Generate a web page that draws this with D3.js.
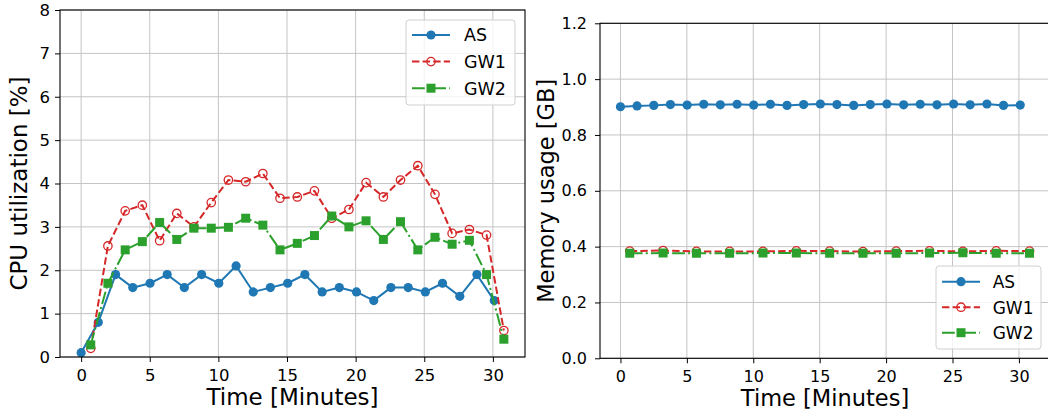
<!DOCTYPE html>
<html>
<head>
<meta charset="utf-8">
<script src="https://cdn.jsdelivr.net/npm/d3@7"></script>
<style>
  body { margin: 0; background: #fff; }
  text { font-family: "DejaVu Sans", sans-serif; fill: #000; }
</style>
</head>
<body>
<svg id="chart" width="1048" height="414"></svg>
<script>
// values
const seriesNames = ['AS', 'GW1', 'GW2']
const xTicks = [0, 5, 10, 15, 20, 25, 30]
const cpuTicks = [0, 1, 2, 3, 4, 5, 6, 7, 8]
const memTicks = [0, 0.2, 0.4, 0.6, 0.8, 1.0, 1.2]

const timeAS = [0, 1.25, 2.51, 3.76, 5.02, 6.27, 7.52, 8.78, 10.03, 11.29, 12.54, 13.79, 15.05,
  16.3, 17.56, 18.81, 20.06, 21.32, 22.57, 23.83, 25.08, 26.33, 27.59, 28.84, 30.1]
const timeGW = [0.7, 1.95, 3.21, 4.46, 5.72, 6.97, 8.22, 9.48, 10.73, 11.99, 13.24, 14.49, 15.75,
  17.0, 18.26, 19.51, 20.76, 22.02, 23.27, 24.53, 25.78, 27.03, 28.29, 29.54, 30.8]
const memTimeGW = [0.7, 3.21, 5.72, 8.22, 10.73, 13.24, 15.75, 18.26, 20.76, 23.27, 25.78, 28.29, 30.8]

const cpuAS = [0.1, 0.8, 1.9, 1.6, 1.7, 1.9, 1.6, 1.9, 1.7, 2.1, 1.5, 1.6, 1.7,
  1.9, 1.5, 1.6, 1.5, 1.3, 1.6, 1.6, 1.5, 1.7, 1.4, 1.9, 1.3]
const cpuGW1 = [0.2, 2.56, 3.37, 3.5, 2.68, 3.31, 3.0, 3.56, 4.08, 4.04, 4.23, 3.66, 3.69,
  3.83, 3.2, 3.4, 4.02, 3.69, 4.08, 4.41, 3.75, 2.85, 2.94, 2.81, 0.61]
const cpuGW2 = [0.28, 1.7, 2.47, 2.66, 3.1, 2.71, 2.97, 2.97, 2.99, 3.2, 3.04, 2.47, 2.62,
  2.8, 3.25, 3.0, 3.14, 2.71, 3.12, 2.47, 2.76, 2.6, 2.69, 1.9, 0.41]

const memAS = [0.901, 0.904, 0.906, 0.909, 0.907, 0.91, 0.908, 0.91, 0.907, 0.91, 0.906, 0.909, 0.911,
  0.909, 0.906, 0.909, 0.911, 0.908, 0.91, 0.908, 0.911, 0.908, 0.911, 0.906, 0.907]
const memGW1 = [0.384, 0.386, 0.383, 0.383, 0.383, 0.385, 0.384, 0.382, 0.384, 0.385, 0.383, 0.385, 0.384]
const memGW2 = [0.376, 0.377, 0.376, 0.376, 0.377, 0.377, 0.376, 0.376, 0.376, 0.377, 0.378, 0.376, 0.376]

const colors = { 'AS': '#1f77b4', 'GW1': '#d62728', 'GW2': '#2ca02c' }
const dashes = { 'AS': null, 'GW1': '7.4,3.2', 'GW2': '12.8,3.2,2,3.2' }

const svg = d3.select('#chart')

const drawPanel = (p) => {
    const x = d3.scaleLinear().domain([-1.54, 32.34]).range([p.left, p.right])
    const y = d3.scaleLinear().domain(p.yDomain).range([p.bottom, p.top])
    const g = svg.append('g')

    const clipId = 'clip' + p.id
    g.append('clipPath').attr('id', clipId)
        .append('rect')
        .attr('x', p.left).attr('y', p.top)
        .attr('width', p.right - p.left).attr('height', p.bottom - p.top)

    // grid
    g.append('g').selectAll('line')
        .data(xTicks)
        .join('line')
        .attr('x1', d => x(d)).attr('x2', d => x(d))
        .attr('y1', p.top).attr('y2', p.bottom)
        .attr('stroke', '#c4c4c4').attr('stroke-width', 1)
    g.append('g').selectAll('line')
        .data(p.yTicks)
        .join('line')
        .attr('x1', p.left).attr('x2', p.right)
        .attr('y1', d => y(d)).attr('y2', d => y(d))
        .attr('stroke', '#c4c4c4').attr('stroke-width', 1)

    // series
    const plot = g.append('g').attr('clip-path', `url(#${clipId})`)
    p.series.forEach(s => {
        const pts = s.t.map((t, i) => [t, s.v[i]])
        plot.append('path')
            .datum(pts)
            .attr('fill', 'none')
            .attr('stroke', colors[s.name])
            .attr('stroke-width', 2)
            .attr('stroke-dasharray', dashes[s.name])
            .attr('d', d3.line().x(d => x(d[0])).y(d => y(d[1])))

        if (s.name === 'GW2') {
            plot.append('g').selectAll('path')
                .data(pts)
                .join('path')
                .attr('transform', d => `translate(${x(d[0])},${y(d[1])})`)
                .attr('d', d3.symbol(d3.symbolSquare, 81))
                .attr('fill', colors[s.name])
        } else {
            plot.append('g').selectAll('circle')
                .data(pts)
                .join('circle')
                .attr('cx', d => x(d[0]))
                .attr('cy', d => y(d[1]))
                .attr('r', s.name === 'AS' ? 4.6 : 4.2)
                .attr('fill', s.name === 'AS' ? colors[s.name] : 'none')
                .attr('stroke', colors[s.name])
                .attr('stroke-width', s.name === 'AS' ? 0 : 1.3)
        }
    })

    // frame
    g.append('rect')
        .attr('x', p.left).attr('y', p.top)
        .attr('width', p.right - p.left).attr('height', p.bottom - p.top)
        .attr('fill', 'none').attr('stroke', '#000').attr('stroke-width', 1.1)

    // axes
    const xAxis = g.append('g')
        .attr('transform', `translate(0,${p.bottom})`)
        .call(d3.axisBottom(x).tickValues(xTicks).tickSize(5).tickSizeOuter(0).tickPadding(7))
    const yAxis = g.append('g')
        .attr('transform', `translate(${p.left},0)`)
        .call(d3.axisLeft(y).tickValues(p.yTicks).tickFormat(p.yFormat).tickSize(5).tickSizeOuter(0).tickPadding(p.yPad))
    ;[xAxis, yAxis].forEach(a => {
        a.select('.domain').remove()
        a.selectAll('text').style('font-size', p.tickFont + 'px').attr('fill', '#000')
        a.selectAll('line').attr('stroke', '#000').attr('stroke-width', 1)
    })

    // axis labels
    g.append('text')
        .attr('x', (p.left + p.right) / 2)
        .attr('y', p.xLabelY)
        .attr('text-anchor', 'middle')
        .style('font-size', p.labelFont + 'px')
        .text('Time [Minutes]')
    g.append('text')
        .attr('transform', `translate(${p.yLabelX},${(p.top + p.bottom) / 2}) rotate(-90)`)
        .attr('text-anchor', 'middle')
        .style('font-size', p.labelFont + 'px')
        .text(p.yLabel)

    // legend
    const lg = p.legend
    const leg = g.append('g')
    leg.append('rect')
        .attr('x', lg.x).attr('y', lg.y)
        .attr('width', lg.w).attr('height', lg.h)
        .attr('rx', 3)
        .attr('fill', '#fff').attr('fill-opacity', 0.8)
        .attr('stroke', '#d0d0d0').attr('stroke-width', 1)
    seriesNames.forEach((name, i) => {
        const cy = lg.y + lg.firstRow + i * lg.rowGap
        const x0 = lg.x + 6
        const x1 = x0 + 38
        const xm = (x0 + x1) / 2
        leg.append('line')
            .attr('x1', x0).attr('x2', x1)
            .attr('y1', cy).attr('y2', cy)
            .attr('stroke', colors[name]).attr('stroke-width', 2)
            .attr('stroke-dasharray', dashes[name])
        if (name === 'GW2') {
            leg.append('path')
                .attr('transform', `translate(${xm},${cy})`)
                .attr('d', d3.symbol(d3.symbolSquare, 81))
                .attr('fill', colors[name])
        } else {
            leg.append('circle')
                .attr('cx', xm).attr('cy', cy)
                .attr('r', name === 'AS' ? 4.6 : 4.2)
                .attr('fill', name === 'AS' ? colors[name] : 'none')
                .attr('stroke', colors[name])
                .attr('stroke-width', name === 'AS' ? 0 : 1.3)
        }
        leg.append('text')
            .attr('x', lg.x + lg.textX)
            .attr('y', cy + 6.3)
            .style('font-size', lg.font + 'px')
            .text(name)
    })
}

drawPanel({
    id: 'cpu', left: 60, right: 525, top: 10, bottom: 357,
    yDomain: [0, 8], yTicks: cpuTicks, yFormat: d3.format('d'), yPad: 5,
    yLabel: 'CPU utilization [%]', yLabelX: 27, xLabelY: 405,
    tickFont: 16.5, labelFont: 23,
    series: [
        { name: 'AS', t: timeAS, v: cpuAS },
        { name: 'GW1', t: timeGW, v: cpuGW1 },
        { name: 'GW2', t: timeGW, v: cpuGW2 }
    ],
    legend: { x: 406, y: 20, w: 109, h: 85, firstRow: 15, rowGap: 26.6, textX: 58, font: 17.5 }
})

drawPanel({
    id: 'mem', left: 600, right: 1050, top: 23.3, bottom: 358.3,
    yDomain: [0, 1.2], yTicks: memTicks, yFormat: d3.format('.1f'), yPad: 8,
    yLabel: 'Memory usage [GB]', yLabelX: 553.5, xLabelY: 406,
    tickFont: 16, labelFont: 22.5,
    series: [
        { name: 'AS', t: timeAS, v: memAS },
        { name: 'GW1', t: memTimeGW, v: memGW1 },
        { name: 'GW2', t: memTimeGW, v: memGW2 }
    ],
    legend: { x: 936, y: 266, w: 105, h: 83, firstRow: 15.7, rowGap: 25.5, textX: 56.7, font: 17 }
})
</script>
</body>
</html>
